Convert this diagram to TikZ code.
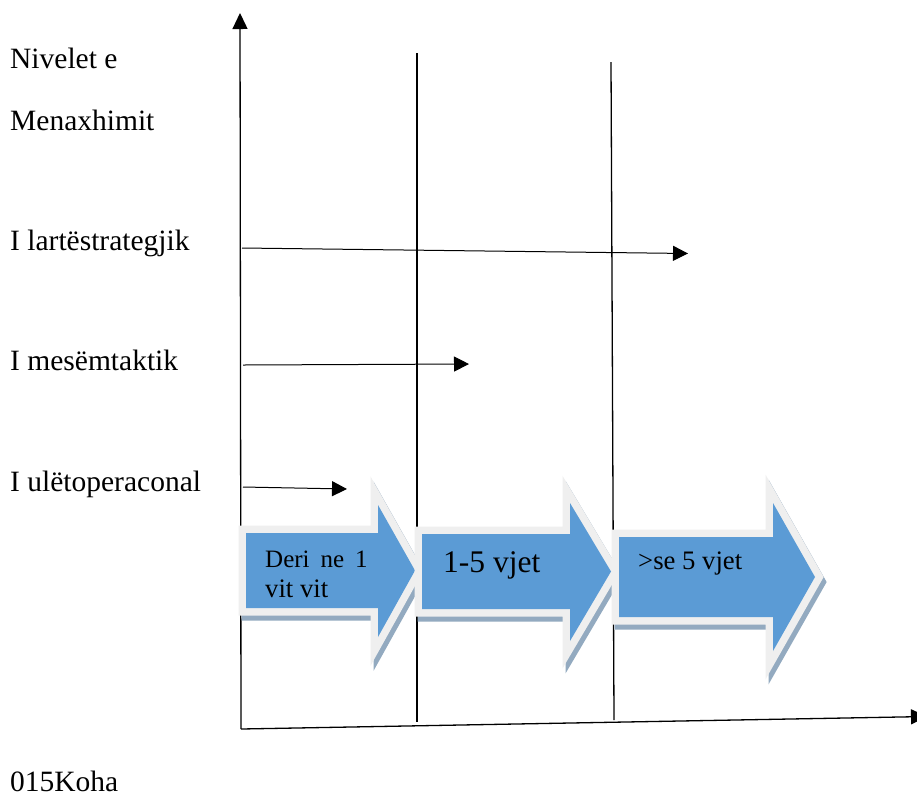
\documentclass[tikz,border=0pt]{standalone}
\usepackage{fontspec}
\setmainfont{Liberation Serif}
\usetikzlibrary{arrows.meta}

\definecolor{blockblue}{HTML}{5B9BD5}
\definecolor{blockrim}{HTML}{EFEFEF}
\definecolor{blockshade}{HTML}{93AAC0}

\tikzset{
  axisline/.style={line width=1.3pt, -{Triangle[length=16pt,width=15pt]}},
  gridline/.style={line width=1.3pt},
  levelarrow/.style={line width=1pt, -{Triangle[length=15pt,width=15pt]}},
  label/.style={anchor=base west, inner sep=0pt, font=\fontsize{29.5}{35}\selectfont},
  blocktext/.style={anchor=base west, inner sep=0pt, font=\fontsize{26.7}{32}\selectfont},
  rim/.style={draw=blockrim, line width=15pt, line join=miter, miter limit=10},
  shade/.style={draw=blockshade, fill=blockshade, line width=15pt, line join=miter, miter limit=10},
}

% block arrow: #1 left, #2 head start x, #3 tip x, #4 body top, #5 body bottom, #6 head top, #7 head bottom
\newcommand{\blockarrowpath}[7]{(#1,#4) -- (#2,#4) -- (#2,#6) -- (#3,{(#4+#5)/2}) -- (#2,#7) -- (#2,#5) -- (#1,#5) -- cycle}
\newcommand{\drawblockarrow}[7]{%
  \path[shade, shift={(3,5)}] \blockarrowpath{#1}{#2}{#3}{#4}{#5}{#6}{#7};
  \path[rim] \blockarrowpath{#1}{#2}{#3}{#4}{#5}{#6}{#7};
  \path[fill=blockblue] \blockarrowpath{#1}{#2}{#3}{#4}{#5}{#6}{#7};
}

\begin{document}
\begin{tikzpicture}[x=1pt, y=-1pt]
\useasboundingbox (0,0) rectangle (917,796);
\clip (0,0) rectangle (917,796);
\fill[white] (0,0) rectangle (917,796);

% axes and grid lines
\coordinate (origin) at (241,729);
\coordinate (ytop) at (240,13);
\coordinate (xend) at (927,716.5);
\coordinate (g2top) at (417,53);
\coordinate (g2bot) at (417,722);
\coordinate (g3top) at (611,62);
\coordinate (g3bot) at (614,720);
\draw[axisline] (origin) -- (ytop);
\draw[axisline] (origin) -- (xend);
\draw[gridline] (g2top) -- (g2bot);
\draw[gridline] (g3top) -- (g3bot);

% horizon arrows for each level
\coordinate (hiA) at (242,248);
\coordinate (hiB) at (688,253.5);
\coordinate (midA) at (243,365);
\coordinate (midB) at (469,364);
\coordinate (lowA) at (243,487);
\coordinate (lowB) at (347,489);
\draw[levelarrow] (hiA) -- (hiB);
\draw[levelarrow] (midA) -- (midB);
\draw[levelarrow] (lowA) -- (lowB);

% level labels
\node[label] (lbl1) at (10,68) {Nivelet e};
\node[label] (lbl2) at (10,130) {Menaxhimit};
\node[label] (lblhi) at (10,250) {I lartëstrategjik};
\node[label] (lblmid) at (10,370) {I mesëmtaktik};
\node[label] (lbllow) at (10,491) {I ulëtoperaconal};
\node[label] (lbltime) at (10,791) {015Koha};

% time-span block arrows
\drawblockarrow{246}{378}{415}{533}{608}{505}{637}
\drawblockarrow{422}{570}{611}{534}{609}{503}{641}
\drawblockarrow{619}{773}{815}{537}{617}{503}{651}

\node[blocktext, font=\fontsize{25}{30}\selectfont] (t1a) at (265,567) {Deri\hspace{11pt}ne\hspace{11pt}1};
\node[blocktext] (t1b) at (265,597) {vit vit};
\node[blocktext, font=\fontsize{31.5}{36}\selectfont] (t2) at (443,572) {1-5 vjet};
\node[blocktext] (t3) at (638,569) {>se 5 vjet};
\end{tikzpicture}
\end{document}
